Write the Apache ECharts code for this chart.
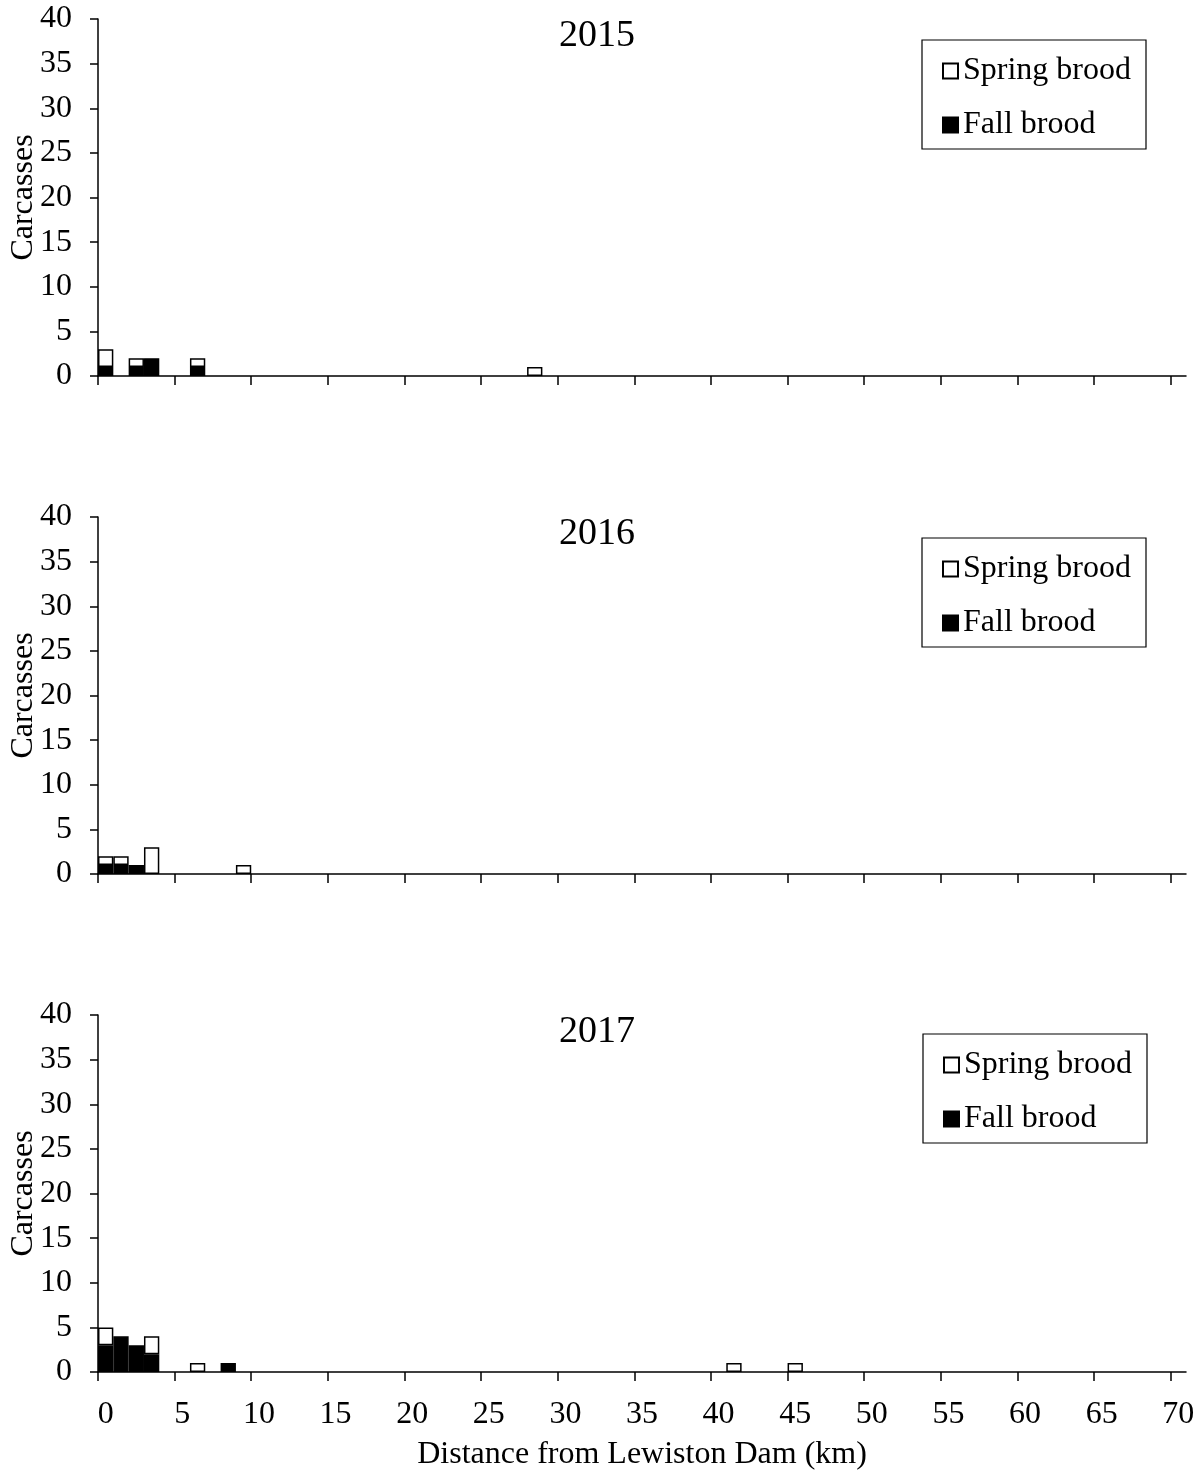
<!DOCTYPE html>
<html>
<head>
<meta charset="utf-8">
<title>Carcasses by distance from Lewiston Dam</title>
<script src="https://cdn.jsdelivr.net/npm/echarts@6/dist/echarts.min.js"></script>
<style>
  html, body { margin: 0; padding: 0; background: #fff; }
  #chart { width: 1203px; height: 1471px; }
</style>
</head>
<body>
<div id="chart"></div>
<script>
// 1-km distance bins below Lewiston Dam (0 .. 70 km)
const kmBins = Array.from({ length: 71 }, (_, i) => String(i));
const tickKm = [0, 5, 10, 15, 20, 25, 30, 35, 40, 45, 50, 55, 60, 65, 70];
const countTicks = [0, 5, 10, 15, 20, 25, 30, 35, 40];

const years = ['2015', '2016', '2017'];

// Carcass counts as [bin (km), count]
const fall2015 = [[0, 1], [2, 1], [3, 2], [6, 1]];
const spring2015 = [[0, 2], [2, 1], [6, 1], [28, 1]];

const fall2016 = [[0, 1], [1, 1], [2, 1]];
const spring2016 = [[0, 1], [1, 1], [3, 3], [9, 1]];

const fall2017 = [[0, 3], [1, 4], [2, 3], [3, 2], [8, 1]];
const spring2017 = [[0, 2], [3, 2], [6, 1], [41, 1], [45, 1]];

const fallByYear = [fall2015, fall2016, fall2017];
const springByYear = [spring2015, spring2016, spring2017];

const FONT = '"Liberation Serif", "Times New Roman", serif';
const INK = '#000';

// one value per bin; empty bins stay blank so no zero-height outline is drawn
function toBins(pairs) {
  const out = kmBins.map(() => '-');
  pairs.forEach(([km, n]) => { out[km] = n; });
  return out;
}

const gridTops = [19, 517, 1015];
const gridHeight = 357;
const legendPos = [[922, 40], [922, 538], [923, 1034]];

const grid = [], xAxis = [], yAxis = [], series = [], legend = [], graphic = [];

years.forEach((year, i) => {
  const last = i === years.length - 1;
  grid.push({
    left: 98, right: 17, top: gridTops[i], height: gridHeight,
    containLabel: false, outerBoundsMode: 'none'
  });

  // category axis carrying the bars and the labels
  xAxis.push({
    type: 'category', gridIndex: i, data: kmBins, boundaryGap: true,
    axisLine: { show: true, lineStyle: { color: INK, width: 1.5 } },
    axisTick: { show: false },
    axisLabel: {
      show: last, interval: 4, margin: 27,
      fontFamily: FONT, fontSize: 32, color: INK
    },
    splitLine: { show: false },
    name: last ? 'Distance from Lewiston Dam (km)' : '',
    nameLocation: 'middle', nameGap: 67, nameMoveOverlap: false,
    nameTextStyle: { fontFamily: FONT, fontSize: 32, color: INK }
  });
  // value axis on the same span, drawing the tick marks on bin edges
  xAxis.push({
    type: 'value', gridIndex: i, min: 0, max: kmBins.length, position: 'bottom',
    axisLine: { show: false },
    axisTick: { show: true, length: 9, customValues: tickKm, lineStyle: { color: INK, width: 1.5 } },
    axisLabel: { show: false },
    splitLine: { show: false }
  });

  yAxis.push({
    type: 'value', gridIndex: i, min: 0, max: 40, interval: 5,
    axisLine: { show: true, lineStyle: { color: INK, width: 1.5 } },
    axisTick: { show: true, length: 8, lineStyle: { color: INK, width: 1.5 } },
    axisLabel: { margin: 26, fontFamily: FONT, fontSize: 32, color: INK },
    splitLine: { show: false },
    name: 'Carcasses', nameLocation: 'middle', nameGap: 58, nameMoveOverlap: false,
    nameTextStyle: { fontFamily: FONT, fontSize: 32, color: INK }
  });

  series.push({
    name: 'Fall brood', type: 'bar', stack: 'y' + year,
    xAxisIndex: i * 2, yAxisIndex: i,
    barCategoryGap: '0%', barGap: '0%',
    itemStyle: { color: INK, borderColor: INK, borderWidth: 1.5 },
    data: toBins(fallByYear[i])
  });
  series.push({
    name: 'Spring brood', type: 'bar', stack: 'y' + year,
    xAxisIndex: i * 2, yAxisIndex: i,
    barCategoryGap: '0%', barGap: '0%',
    itemStyle: { color: '#fff', borderColor: INK, borderWidth: 1.5 },
    data: toBins(springByYear[i])
  });

  legend.push({
    orient: 'vertical', left: legendPos[i][0], top: legendPos[i][1],
    data: ['Spring brood', 'Fall brood'],
    icon: 'rect', itemWidth: 15, itemHeight: 15, itemGap: 22,
    padding: [15, 15, 8, 20],
    borderColor: INK, borderWidth: 1.2, selectedMode: false,
    textStyle: { fontFamily: FONT, fontSize: 32, color: INK }
  });

  graphic.push({
    type: 'text', x: 597, y: gridTops[i] + 17,
    style: {
      text: year, textAlign: 'center', textVerticalAlign: 'middle',
      fontFamily: FONT, fontSize: 38, fill: INK
    }
  });
});

const chart = echarts.init(document.getElementById('chart'), null, { renderer: 'canvas' });
chart.setOption({
  backgroundColor: '#fff',
  animation: false,
  grid, xAxis, yAxis, series, legend, graphic
});
</script>
</body>
</html>
